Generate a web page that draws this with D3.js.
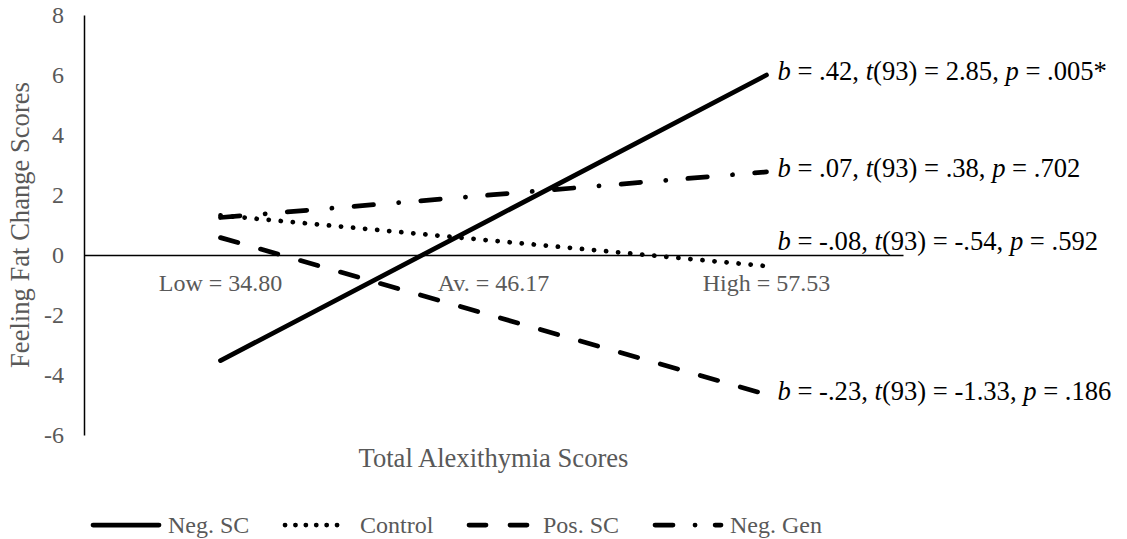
<!DOCTYPE html>
<html><head><meta charset="utf-8">
<script src="https://cdn.jsdelivr.net/npm/d3@7"></script>
<style>body{margin:0;background:#fff}</style></head>
<body><svg id="c" width="1127" height="539"></svg>
<script>
// ---- data ----
const categories = ["Low = 34.80", "Av. = 46.17", "High = 57.53"];
const seriesNames = ["Neg. SC", "Control", "Pos. SC", "Neg. Gen"];
const negSC   = [-3.52, 1.24, 6.0];
const control = [1.32, 0.475, -0.37];
const posSC   = [0.58, -2.035, -4.65];
const negGen  = [1.25, 2.01, 2.77];
const bVals = [".42", "-.08", "-.23", ".07"];
const tVals = ["2.85", "-.54", "-1.33", ".38"];
const pVals = [".005*", ".592", ".186", ".702"];
const yTicks = [-6, -4, -2, 0, 2, 4, 6, 8];
const yTitle = "Feeling Fat Change Scores";
const xTitle = "Total Alexithymia Scores";

// ---- styles ----
const seriesValues = [negSC, control, posSC, negGen];
const dashes = [null, "0.1,12", "18,23.6", "19.5,25.25,0.1,22.15"];
const legendDashes = [null, "0.1,10.3", "17,24", "18,22,0.1,20"];
const labelDy = [5, -16, 5.5, 5];
const legendSym = [[93, 159], [285, 347], [469, 528], [655, 721]];
const legendTextX = [168, 360, 543, 730];
const serif = "'Liberation Serif','Times New Roman',serif";
const grey = "#595959";
const fs = 24;
const titleFs = 26.6;

const svg = d3.select("#c");
const x = d3.scaleBand().domain(categories).range([84, 903]);
const y = d3.scaleLinear().domain([-6, 8]).range([435, 15]);
const cx = d => x(d) + x.bandwidth() / 2;

// y axis
const yAxis = svg.append("g").attr("transform", "translate(84,0)")
  .call(d3.axisLeft(y).tickValues(yTicks).tickSize(0).tickPadding(20).tickFormat(d => String(d)));
yAxis.select(".domain").attr("stroke", "#000").attr("stroke-width", 1.5);
yAxis.selectAll("text").attr("font-family", serif).attr("font-size", fs).attr("fill", grey);

// zero line (category axis)
const xAxis = svg.append("g").attr("transform", `translate(0,${y(0)})`)
  .call(d3.axisBottom(x).tickSize(0).tickPadding(19));
xAxis.select(".domain").attr("stroke", "#000").attr("stroke-width", 1.5);
xAxis.selectAll("text").attr("font-family", serif).attr("font-size", fs).attr("fill", grey);

// titles
svg.append("text").attr("transform", `translate(29,${(y(8) + y(-6)) / 2}) rotate(-90)`)
  .attr("text-anchor", "middle").attr("font-family", serif).attr("font-size", titleFs)
  .attr("fill", grey).text(yTitle);
svg.append("text").attr("x", (x.range()[0] + x.range()[1]) / 2).attr("y", 467)
  .attr("text-anchor", "middle").attr("font-family", serif).attr("font-size", titleFs)
  .attr("fill", grey).text(xTitle);

// lines
const line = d3.line().x((d, i) => cx(categories[i])).y(d => y(d));
seriesValues.forEach((vals, k) => {
  svg.append("path").attr("d", line(vals)).attr("fill", "none")
    .attr("stroke", "#000").attr("stroke-width", 4.75).attr("stroke-linecap", "round")
    .attr("stroke-dasharray", dashes[k]);
});

// annotations
seriesValues.forEach((vals, k) => {
  const t = svg.append("text").attr("x", cx(categories[2]) + 11)
    .attr("y", y(vals[2]) + labelDy[k]).attr("font-family", serif)
    .attr("font-size", 26.6).attr("fill", "#000");
  t.append("tspan").attr("font-style", "italic").text("b");
  t.append("tspan").text(` = ${bVals[k]}, `);
  t.append("tspan").attr("font-style", "italic").text("t");
  t.append("tspan").text(`(93) = ${tVals[k]}, `);
  t.append("tspan").attr("font-style", "italic").text("p");
  t.append("tspan").text(` = ${pVals[k]}`);
});

// legend
const ly = 525;
seriesNames.forEach((name, k) => {
  svg.append("line").attr("x1", legendSym[k][0]).attr("x2", legendSym[k][1])
    .attr("y1", ly).attr("y2", ly).attr("stroke", "#000").attr("stroke-width", 4.75)
    .attr("stroke-linecap", "round").attr("stroke-dasharray", legendDashes[k]);
  svg.append("text").attr("x", legendTextX[k]).attr("y", ly + 8)
    .attr("font-family", serif).attr("font-size", fs).attr("fill", grey).text(name);
});
</script></body></html>
